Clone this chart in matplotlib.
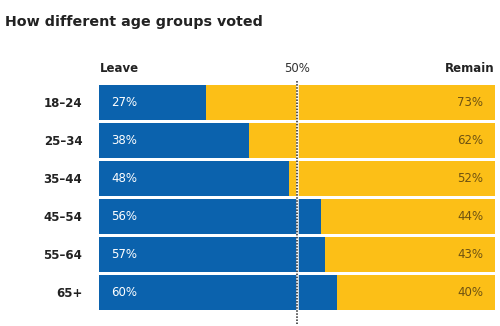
import matplotlib.pyplot as plt

ages = ["18–24", "25–34", "35–44", "45–54", "55–64", "65+"]
leave = [27, 38, 48, 56, 57, 60]
remain = [73, 62, 52, 44, 43, 40]

BLUE = "#0b62ad"
YELLOW = "#fcbf17"
REMAIN_TXT = "#6e5212"

def main():
    fig = plt.figure(figsize=(5, 3.26), dpi=100)
    ax = fig.add_axes([99 / 500, 1 - 324 / 326, 396 / 500, 244 / 326])

    ys = range(len(ages))
    ax.barh(ys, leave, height=0.92, color=BLUE, linewidth=0)
    ax.barh(ys, remain, left=leave, height=0.92, color=YELLOW, linewidth=0)

    for y, l, r in zip(ys, leave, remain):
        ax.text(3, y, "%d%%" % l, color="white", va="center", ha="left", fontsize=8.5)
        ax.text(97, y, "%d%%" % r, color=REMAIN_TXT, va="center", ha="right", fontsize=8.5)

    # dotted 50% marker, white underlay so it shows on both colours
    ax.axvline(50, color="white", lw=1.8, zorder=3)
    ax.axvline(50, color="#222222", lw=1.1, ls=(0, (1, 1)), zorder=4)

    ax.set_xlim(0, 100)
    ax.set_ylim(5.83, -0.59)
    ax.set_yticks(list(ys))
    ax.set_yticklabels(ages, fontsize=8.5, fontweight="bold", color="#222222")
    ax.tick_params(axis="y", length=0, pad=12)
    ax.set_xticks([])
    for s in ax.spines.values():
        s.set_visible(False)

    fig.text(5 / 500, 1 - 22 / 326, "How different age groups voted", fontsize=10.3,
             fontweight="bold", color="#222222", va="center", ha="left")
    fig.text(100 / 500, 1 - 69 / 326, "Leave", fontsize=8.5, fontweight="bold",
             color="#222222", va="center", ha="left")
    fig.text(297 / 500, 1 - 69 / 326, "50%", fontsize=8.5, color="#333333",
             va="center", ha="center")
    fig.text(495 / 500, 1 - 69 / 326, "Remain", fontsize=8.5, fontweight="bold",
             color="#222222", va="center", ha="right")

    fig.savefig("out.png", dpi=100)

main()
